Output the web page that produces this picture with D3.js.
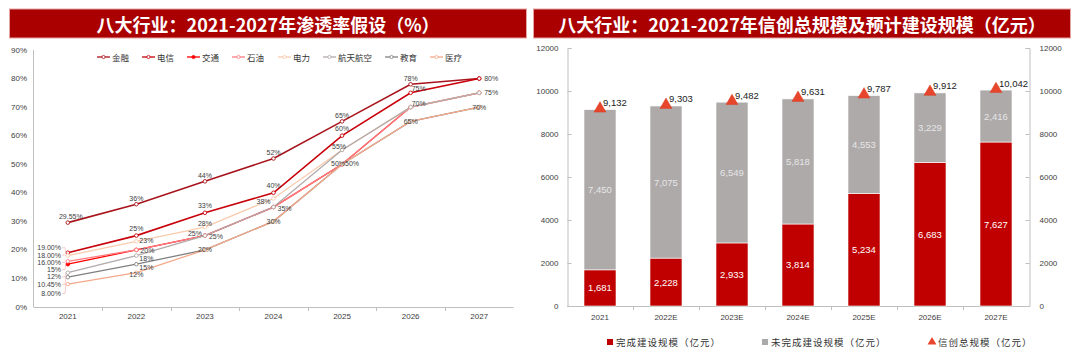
<!DOCTYPE html>
<html><head><meta charset="utf-8">
<script src="https://cdn.jsdelivr.net/npm/d3@7/dist/d3.min.js"></script>
<style>
html,body{margin:0;padding:0;background:#fff;}
svg{display:block;font-family:"Liberation Sans",Arial,"Noto Sans CJK SC",sans-serif;}
</style></head>
<body>
<svg id="c" width="1080" height="358"></svg>
<script>
// ---------- Left chart data ----------
const years = ["2021","2022","2023","2024","2025","2026","2027"];
const seriesNames = ["金融","电信","交通","石油","电力","航天航空","教育","医疗"];
const finance   = [29.55, 36, 44, 52, 65, 78, 80];
const telecom   = [19, 25, 33, 40, 60, 75, 80];
const transport = [15, 20, 25, 35, 50, 70, 75];
const oil       = [16, 20, 25, 35, 50, 70, 75];
const power     = [18, 23, 28, 38, 55, 70, 75];
const aerospace = [12, 18, 25, 35, 55, 70, 75];
const education = [10.45, 15, 20, 30, 50, 65, 70];
const medical   = [8, 12, 20, 30, 50, 65, 70];
const firstYearLabels = ["29.55%","19.00%","15%","16.00%","18.00%","12%","10.45%","8.00%"];
const pctTicks = [0,10,20,30,40,50,60,70,80,90];

// ---------- Right chart data ----------
const barYears = ["2021","2022E","2023E","2024E","2025E","2026E","2027E"];
const completed = [1681, 2228, 2933, 3814, 5234, 6683, 7627];
const remaining = [7450, 7075, 6549, 5818, 4553, 3229, 2416];
const totals    = [9132, 9303, 9482, 9631, 9787, 9912, 10042];
const valueTicks = [0,2000,4000,6000,8000,10000,12000];
const barLegend = ["完成建设规模（亿元）","未完成建设规模（亿元）","信创总规模（亿元）"];

const CJK = "'Noto Sans CJK SC','Noto Sans CJK JP',sans-serif";
const svg = d3.select("#c");
const txt = "#404040";

// ---------- Title bars ----------
function titleBar(x0, x1, label){
  svg.append("rect").attr("x",x0).attr("y",9).attr("width",x1-x0).attr("height",29)
    .attr("fill","#AA0000").attr("stroke","#e3a3a3").attr("stroke-width",1);
  svg.append("text").style("font-family",CJK).attr("x",(x0+x1)/2).attr("y",24)
    .attr("text-anchor","middle").attr("dominant-baseline","central")
    .attr("fill","#fff").attr("font-size",18).style("font-weight",700).text(label);
}
titleBar(9.5, 526.5, "八大行业：2021-2027年渗透率假设（%）");
titleBar(533.5, 1070.5, "八大行业：2021-2027年信创总规模及预计建设规模（亿元）");

// ---------- Left line chart ----------
const seriesData = [finance, telecom, transport, oil, power, aerospace, education, medical];
const colors = ["#A8141C","#C8000A","#FF0000","#FF7C80","#F8CBAD","#B2A9A9","#808080","#F4A98A"];
const widths = [1.6,1.6,1.3,1.3,1.3,1.3,1.3,1.3];
const labelCfg = [
  {a:"middle",dx:0,dy:-6},{a:"middle",dx:0,dy:-7},{a:"start",dx:4,dy:1},{a:"start",dx:3,dy:3},
  {a:"start",dx:3,dy:-1},{a:"start",dx:3,dy:3},{a:"middle",dx:0,dy:0},{a:"middle",dx:0,dy:2}
];
const labelOverride = {
  "4|2":{a:"middle",dx:0,dy:-4}, "4|3":{a:"end",dx:-3,dy:3}, "4|4":{a:"middle",dx:-3,dy:-3},
  "5|2":{a:"end",dx:-3,dy:-2},
  "2|4":{a:"middle",dx:-4,dy:-1}, "6|4":{a:"start",dx:3,dy:-1},
  "1|5":{a:"start",dx:1,dy:-4}, "2|5":{a:"start",dx:1,dy:-4},
  "6|1":{a:"start",dx:3,dy:3}
};
const allowDup = {"5|2":true,"6|4":true};

const xL = d3.scaleBand().domain(years).range([33.5,513.5]);
const yL = d3.scaleLinear().domain([0,90]).range([307,50]);
const cx = d => xL(d)+xL.bandwidth()/2;

const gL = svg.append("g");
gL.append("line").attr("x1",33.5).attr("x2",33.5).attr("y1",yL(90)).attr("y2",yL(0)).attr("stroke","#BFBFBF");
gL.selectAll(".yt").data(pctTicks).enter().append("text")
  .attr("x",27).attr("y",d=>yL(d)).attr("text-anchor","end").attr("dominant-baseline","central")
  .attr("font-size",8).attr("fill",txt).text(d=>d+"%");
gL.append("line").attr("x1",33.5).attr("x2",513.5).attr("y1",307.5).attr("y2",307.5).attr("stroke","#BFBFBF");
gL.selectAll(".xt").data(years.slice(1)).enter().append("line")
  .attr("x1",d=>Math.round(xL(d))+0.5).attr("x2",d=>Math.round(xL(d))+0.5).attr("y1",307.5).attr("y2",311)
  .attr("stroke","#BFBFBF");
gL.selectAll(".xl").data(years).enter().append("text")
  .attr("x",cx).attr("y",316).attr("text-anchor","middle").attr("dominant-baseline","central")
  .attr("font-size",8).attr("fill",txt).text(d=>d);

const line = d3.line().x((d,i)=>cx(years[i])).y(d=>yL(d));
seriesData.forEach((s,k)=>{
  gL.append("path").datum(s).attr("d",line).attr("fill","none")
    .attr("stroke",colors[k]).attr("stroke-width",widths[k]);
});
seriesData.forEach((s,k)=>{
  gL.selectAll(null).data(s).enter().append("circle")
    .attr("cx",(d,i)=>cx(years[i])).attr("cy",d=>yL(d)).attr("r",1.8)
    .attr("fill",k===2?colors[k]:"#fff").attr("stroke",colors[k]).attr("stroke-width",0.9);
});

const seen = {};
const fmt = v => (Math.round(v*100)/100)+"%";
const order = seriesData.map((s,k)=>k).filter(k=>k!==0).sort((a,b)=>seriesData[b][0]-seriesData[a][0]);
let prevY = -1e9;
order.forEach((k,j)=>{
  const py = yL(seriesData[k][0]);
  let ly = Math.max(py-5, prevY+7.3) + (j===order.length-1?2:0);
  prevY = ly;
  const lx = 61;
  gL.append("text").attr("x",lx).attr("y",ly).attr("text-anchor","end").attr("dominant-baseline","central")
    .attr("font-size",7).attr("fill",txt).text(firstYearLabels[k]);
  gL.append("path").attr("d",`M${lx+1},${ly} L${lx+4},${ly} L${cx(years[0])-2},${py}`)
    .attr("fill","none").attr("stroke","#F2B8B8").attr("stroke-width",0.7);
});
gL.append("text").attr("x",cx(years[0])+3).attr("y",yL(finance[0])-6.5).attr("text-anchor","middle")
  .attr("dominant-baseline","central").attr("font-size",7).attr("fill",txt).text(firstYearLabels[0]);

seriesData.forEach((s,k)=>{
  s.forEach((v,i)=>{
    if(i===0) return;
    const key = i+"|"+v;
    if(seen[key] && !allowDup[k+"|"+i]) return;
    seen[key]=true;
    let c = labelOverride[k+"|"+i] || labelCfg[k];
    if(i===years.length-1) c = (k>=6)?{a:"middle",dx:0,dy:0}:{a:"start",dx:5,dy:0};
    gL.append("text").attr("x",cx(years[i])+c.dx).attr("y",yL(v)+c.dy).attr("text-anchor",c.a)
      .attr("dominant-baseline","central").attr("font-size",7).attr("fill",txt).text(fmt(v));
  });
});

const legX = [97,142,187,232,278,323,385,430];
seriesNames.forEach((n,k)=>{
  const g = gL.append("g").attr("transform",`translate(${legX[k]},57)`);
  g.append("line").attr("x1",0).attr("x2",13).attr("y1",0).attr("y2",0).attr("stroke",colors[k]).attr("stroke-width",1.3);
  g.append("circle").attr("cx",6.5).attr("cy",0).attr("r",1.6).attr("fill",k===2?colors[k]:"#fff").attr("stroke",colors[k]).attr("stroke-width",0.8);
  g.append("text").style("font-family",CJK).attr("x",15).attr("y",0).attr("dominant-baseline","central")
    .attr("font-size",8.5).attr("fill","#333").text(n);
});

// ---------- Right bar chart ----------
const gR = svg.append("g");
const xR = d3.scaleBand().domain(barYears).range([567,1029]).paddingInner(0.515).paddingOuter(0.2575);
const yR = d3.scaleLinear().domain([0,12000]).range([306,48]);
const fmtN = d3.format(",");

function styleAxis(g){
  g.select(".domain").attr("stroke","#BFBFBF");
  g.selectAll(".tick line").attr("stroke","#BFBFBF");
  g.selectAll("text").attr("font-size",8).attr("fill",txt).attr("font-family","Liberation Sans, Arial");
}
gR.append("g").attr("transform","translate(567.5,0)")
  .call(d3.axisLeft(yR).tickValues(valueTicks).tickSize(-4).tickPadding(9).tickFormat(d3.format("d"))).call(styleAxis);
gR.append("g").attr("transform","translate(1029.5,0)")
  .call(d3.axisRight(yR).tickValues(valueTicks).tickSize(-4).tickPadding(10).tickFormat(d3.format("d"))).call(styleAxis);
gR.append("line").attr("x1",567).attr("x2",1029).attr("y1",306.5).attr("y2",306.5).attr("stroke","#BFBFBF");
const step = xR.step();
gR.selectAll(".bt").data(barYears.slice(1)).enter().append("line")
  .attr("x1",(d,i)=>Math.round(567+step*(i+1))+0.5).attr("x2",(d,i)=>Math.round(567+step*(i+1))+0.5)
  .attr("y1",306.5).attr("y2",310).attr("stroke","#BFBFBF");
gR.selectAll(".bl").data(barYears).enter().append("text")
  .attr("x",d=>xR(d)+xR.bandwidth()/2).attr("y",317).attr("text-anchor","middle").attr("dominant-baseline","central")
  .attr("font-size",8).attr("fill",txt).text(d=>d);

const red = "#C00000", gray = "#AEAAAA", tri = "#E8462C";
barYears.forEach((yr,i)=>{
  const x = xR(yr), w = xR.bandwidth(), c = x+w/2;
  gR.append("rect").attr("x",x).attr("y",yR(completed[i])).attr("width",w).attr("height",yR(0)-yR(completed[i]))
    .attr("fill",red).attr("stroke","#fff").attr("stroke-width",0.6);
  gR.append("rect").attr("x",x).attr("y",yR(completed[i]+remaining[i])).attr("width",w)
    .attr("height",yR(completed[i])-yR(completed[i]+remaining[i]))
    .attr("fill",gray).attr("stroke","#fff").attr("stroke-width",0.6);
  gR.append("text").attr("x",c).attr("y",yR(completed[i]/2)).attr("text-anchor","middle").attr("dominant-baseline","central")
    .attr("font-size",9.5).attr("fill","#fff").text(fmtN(completed[i]));
  gR.append("text").attr("x",c).attr("y",yR(completed[i]+remaining[i]/2)).attr("text-anchor","middle").attr("dominant-baseline","central")
    .attr("font-size",9.5).attr("fill","#E6E6E6").text(fmtN(remaining[i]));
  const ty = yR(totals[i]);
  gR.append("path").attr("d",d3.symbol(d3.symbolTriangle,62)()).attr("transform",`translate(${c},${ty-1})`)
    .attr("fill",tri).attr("stroke","#D93A22").attr("stroke-width",0.5);
  gR.append("text").attr("x",c+3).attr("y",ty-7).attr("dominant-baseline","central")
    .attr("font-size",9.5).attr("fill","#222").text(fmtN(totals[i]));
});

const lg = [{x:607,t:"rect",c:red},{x:762,t:"rect",c:"#AAAAAA"},{x:929,t:"tri",c:tri}];
lg.forEach((L,i)=>{
  if(L.t==="rect") gR.append("rect").attr("x",L.x).attr("y",339).attr("width",6).attr("height",6).attr("fill",L.c);
  else gR.append("path").attr("d",d3.symbol(d3.symbolTriangle,34)()).attr("transform",`translate(${L.x+3},342)`).attr("fill",L.c);
  gR.append("text").style("font-family",CJK).attr("x",L.x+9).attr("y",342).attr("dominant-baseline","central")
    .attr("font-size",9.5).attr("letter-spacing",1).attr("fill","#333").text(barLegend[i]);
});
</script>
</body></html>
